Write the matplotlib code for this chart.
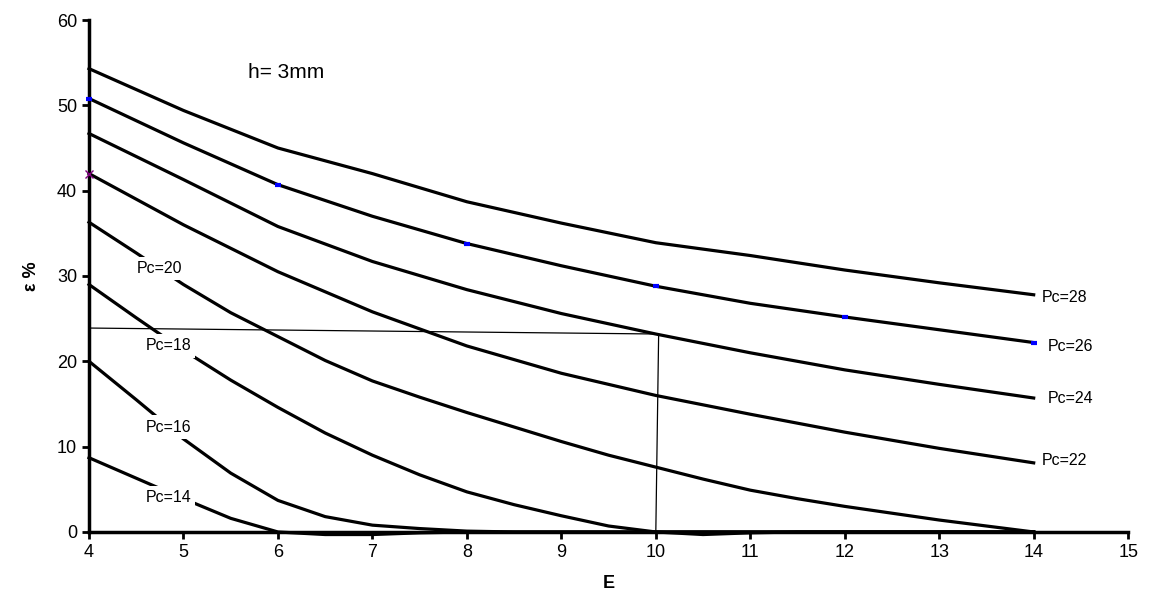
import matplotlib.pyplot as plt

plt.rcParams['font.family'] = ['Liberation Sans', 'DejaVu Sans']

# upper curves read at whole steps of E
E = [4, 5, 6, 7, 8, 9, 10, 11, 12, 13, 14]
pc28 = [54.3, 49.4, 45.0, 42.0, 38.7, 36.2, 33.9, 32.4, 30.7, 29.2, 27.8]
pc26 = [50.8, 45.6, 40.7, 37.0, 33.8, 31.2, 28.8, 26.8, 25.2, 23.7, 22.2]
pc24 = [46.7, 41.3, 35.8, 31.7, 28.4, 25.6, 23.2, 21.0, 19.0, 17.3, 15.7]
pc22 = [42.0, 36.0, 30.5, 25.8, 21.8, 18.6, 16.0, 13.8, 11.7, 9.8, 8.1]

# lower curves read at half steps of E
E_half = [4, 4.5, 5, 5.5, 6, 6.5, 7, 7.5, 8, 8.5, 9, 9.5, 10,
          10.5, 11, 11.5, 12, 12.5, 13, 13.5, 14]
pc20 = [36.3, 32.7, 29.0, 25.7, 22.9, 20.1, 17.7, 15.8, 14.0, 12.3, 10.6, 9.0, 7.6,
        6.2, 4.9, 3.9, 3.0, 2.2, 1.4, 0.7, 0.0]
pc18 = [29.0, 25.1, 21.3, 17.8, 14.6, 11.6, 9.0, 6.7, 4.7, 3.2, 1.9, 0.7, 0.0,
        -0.3, -0.1, 0.0, 0.0, 0.0, 0.0, 0.0, 0.0]
pc16 = [20.0, 15.5, 10.9, 6.9, 3.7, 1.8, 0.8, 0.4, 0.1, 0.0, 0.0, 0.0, 0.0,
        0.0, 0.0, 0.0, 0.0, 0.0, 0.0, 0.0, 0.0]
pc14 = [8.7, 6.3, 3.9, 1.6, 0.0, -0.3, -0.3, -0.1, 0.0, 0.0, 0.0, 0.0, 0.0,
        0.0, 0.0, 0.0, 0.0, 0.0, 0.0, 0.0, 0.0]

upper = [pc28, pc26, pc24, pc22]
lower = [pc20, pc18, pc16, pc14]

right_labels = ["Pc=28", "Pc=26", "Pc=24", "Pc=22"]
right_pos = [(14.09, 27.5), (14.15, 21.7), (14.15, 15.7), (14.09, 8.4)]
left_labels = ["Pc=20", "Pc=18", "Pc=16", "Pc=14"]
left_pos = [(4.75, 30.9), (4.84, 21.8), (4.84, 12.3), (4.84, 4.0)]

# reading guide
guide_x = [4, 10.03, 10.0]
guide_y = [23.9, 23.2, 0]

fig = plt.figure(figsize=(11.5, 6.16), dpi=100)
ax = fig.add_axes([0.0774, 0.1364, 0.9036, 0.8311])

for c in upper:
    ax.plot(E, c, color='black', lw=2.3, zorder=2, clip_on=False)
for c in lower:
    ax.plot(E_half, c, color='black', lw=2.3, zorder=2, clip_on=False)

ax.plot(E[::2], pc26[::2], ls='none', marker='_', color='blue', ms=5, mew=3,
        zorder=6, clip_on=False)
ax.plot(E[0], pc22[0], ls='none', marker='x', color='purple', ms=6, mew=1,
        zorder=6, clip_on=False)

ax.plot(guide_x, guide_y, color='black', lw=0.9, zorder=2)

for t, (x, y) in zip(right_labels, right_pos):
    ax.text(x, y, t, fontsize=11.5, va='center', ha='left')
for t, (x, y) in zip(left_labels, left_pos):
    ax.text(x, y, t, fontsize=11.5, va='center', ha='center', zorder=4,
            bbox=dict(facecolor='white', edgecolor='none', pad=3))

ax.text(5.68, 53.8, "h= 3mm", fontsize=15, va='center', ha='left')

ax.set_xlim(4, 15)
ax.set_ylim(0, 60)
ax.set_xticks(range(4, 16))
ax.set_yticks(range(0, 61, 10))
ax.tick_params(direction='out', length=5, width=2, labelsize=13)
for s in ['top', 'right']:
    ax.spines[s].set_visible(False)
for s in ['left', 'bottom']:
    ax.spines[s].set_linewidth(2.5)
    ax.spines[s].set_zorder(5)

ax.set_xlabel("E", fontsize=13, fontweight='bold', labelpad=10)
ax.set_ylabel("ε %", fontsize=13, fontweight='bold', labelpad=12)

fig.savefig("out.png", dpi=100)
